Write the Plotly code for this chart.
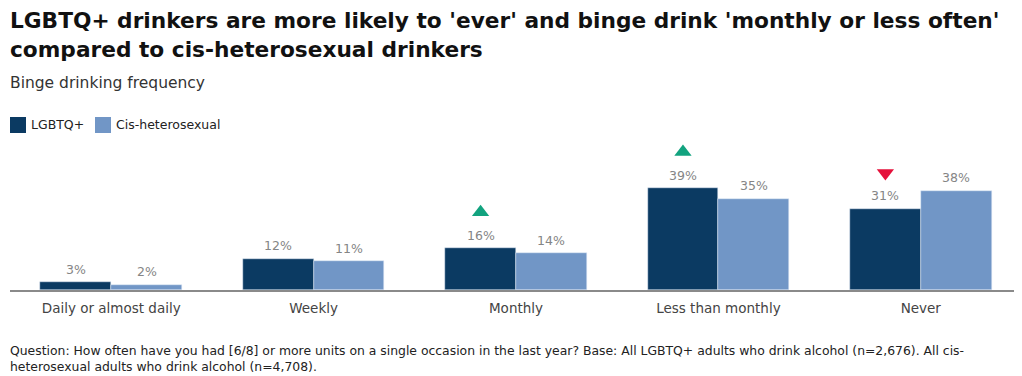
import plotly.graph_objects as go

categories = ["Daily or almost daily", "Weekly", "Monthly", "Less than monthly", "Never"]
lgbtq = [3, 12, 16, 39, 31]
cishet = [2, 11, 14, 35, 38]
# significance markers for LGBTQ+ vs cis-heterosexual: 1 = higher, -1 = lower, 0 = none
sig = [0, 0, 1, 1, -1]
series_names = ["LGBTQ+", "Cis-heterosexual"]

NAVY = "#0b3a62"
LIGHT = "#7196c6"
BAR_W = 0.35
MARK_OFF = 13.8  # data units above bar top

# page body has an 8px offset, so the figure is drawn 8px smaller and positions shifted
OFF = 8
W, H = 1022 - OFF, 376 - OFF
L, R, T, B = 2, 0, 132, 86
PW, PH = W - L - R, H - T - B

FONT = "DejaVu Sans, Lato, sans-serif"

idx = list(range(len(categories)))
xl = [i - BAR_W / 2 for i in idx]
xc = [i + BAR_W / 2 for i in idx]

fig = go.Figure()
fig.add_trace(go.Bar(x=xl, y=lgbtq, width=BAR_W, name=series_names[0],
                     marker_color=NAVY, showlegend=False))
fig.add_trace(go.Bar(x=xc, y=cishet, width=BAR_W, name=series_names[1],
                     marker_color=LIGHT, showlegend=False))

up_x = [x for x, s in zip(xl, sig) if s == 1]
up_y = [v + MARK_OFF for v, s in zip(lgbtq, sig) if s == 1]
dn_x = [x for x, s in zip(xl, sig) if s == -1]
dn_y = [v + MARK_OFF for v, s in zip(lgbtq, sig) if s == -1]
fig.add_trace(go.Scatter(x=up_x, y=up_y, mode="markers", showlegend=False, cliponaxis=False,
                         marker=dict(symbol="triangle-up", size=15, color="#12a37f")))
fig.add_trace(go.Scatter(x=dn_x, y=dn_y, mode="markers", showlegend=False, cliponaxis=False,
                         marker=dict(symbol="triangle-down", size=15, color="#e5103a")))

# value labels
for xs, vals in ((xl, lgbtq), (xc, cishet)):
    for x, v in zip(xs, vals):
        fig.add_annotation(x=x, y=v, text=f"{v}%", showarrow=False, yshift=13,
                           yanchor="middle", font=dict(family=FONT, size=12.5, color="#858585"))

fig.update_layout(
    width=W, height=H,
    margin=dict(l=L, r=R, t=T, b=B),
    paper_bgcolor="white", plot_bgcolor="white",
    barmode="overlay", bargap=0,
    font=dict(family=FONT, color="#333333"),
    showlegend=False,
    xaxis=dict(range=[-0.5, 4.5], tickvals=idx, ticktext=categories, showgrid=False,
               showline=True, linecolor="#8a8a8a", linewidth=1.5, ticks="",
               tickfont=dict(family=FONT, size=13.5, color="#444444"), zeroline=False,
               fixedrange=True, automargin=False, ticklabelstandoff=5),
    yaxis=dict(range=[0, 57.4], visible=False, fixedrange=True),
)


def px_x(xp):
    return (xp - OFF - L) / PW


def px_y(yp):
    return (H - B - (yp - OFF)) / PH


def text_at(text, x_px, y_px, size, color, bold=False):
    fig.add_annotation(
        xref="paper", yref="paper", x=px_x(x_px), xanchor="left",
        y=px_y(y_px), yanchor="middle", showarrow=False, align="left",
        text=f"<b>{text}</b>" if bold else text,
        font=dict(family=FONT, size=size, color=color),
    )


text_at("LGBTQ+ drinkers are more likely to 'ever' and binge drink 'monthly or less often'", 8, 20, 21.7, "#111111", True)
text_at("compared to cis-heterosexual drinkers", 8, 50, 21.7, "#111111", True)
text_at("Binge drinking frequency", 8, 83, 15.5, "#333333")

# legend (drawn manually)
leg = [(series_names[0], NAVY, 10, 31), (series_names[1], LIGHT, 95, 116)]
for name, col, sx, tx in leg:
    fig.add_shape(type="rect", xref="paper", yref="paper",
                  x0=px_x(sx), x1=px_x(sx + 16), y0=px_y(133), y1=px_y(117),
                  fillcolor=col, line_width=0)
    text_at(name, tx - 2, 125, 12.5, "#222222")

fig.add_annotation(
    xref="paper", yref="paper", x=px_x(8), xanchor="left", y=px_y(358), yanchor="middle",
    showarrow=False, align="left",
    text="Question: How often have you had [6/8] or more units on a single occasion in the last year? Base: All LGBTQ+ adults who drink alcohol (n=2,676). All cis-<br>heterosexual adults who drink alcohol (n=4,708).",
    font=dict(family=FONT, size=12.4, color="#222222"),
)

fig.write_html("out.html")
